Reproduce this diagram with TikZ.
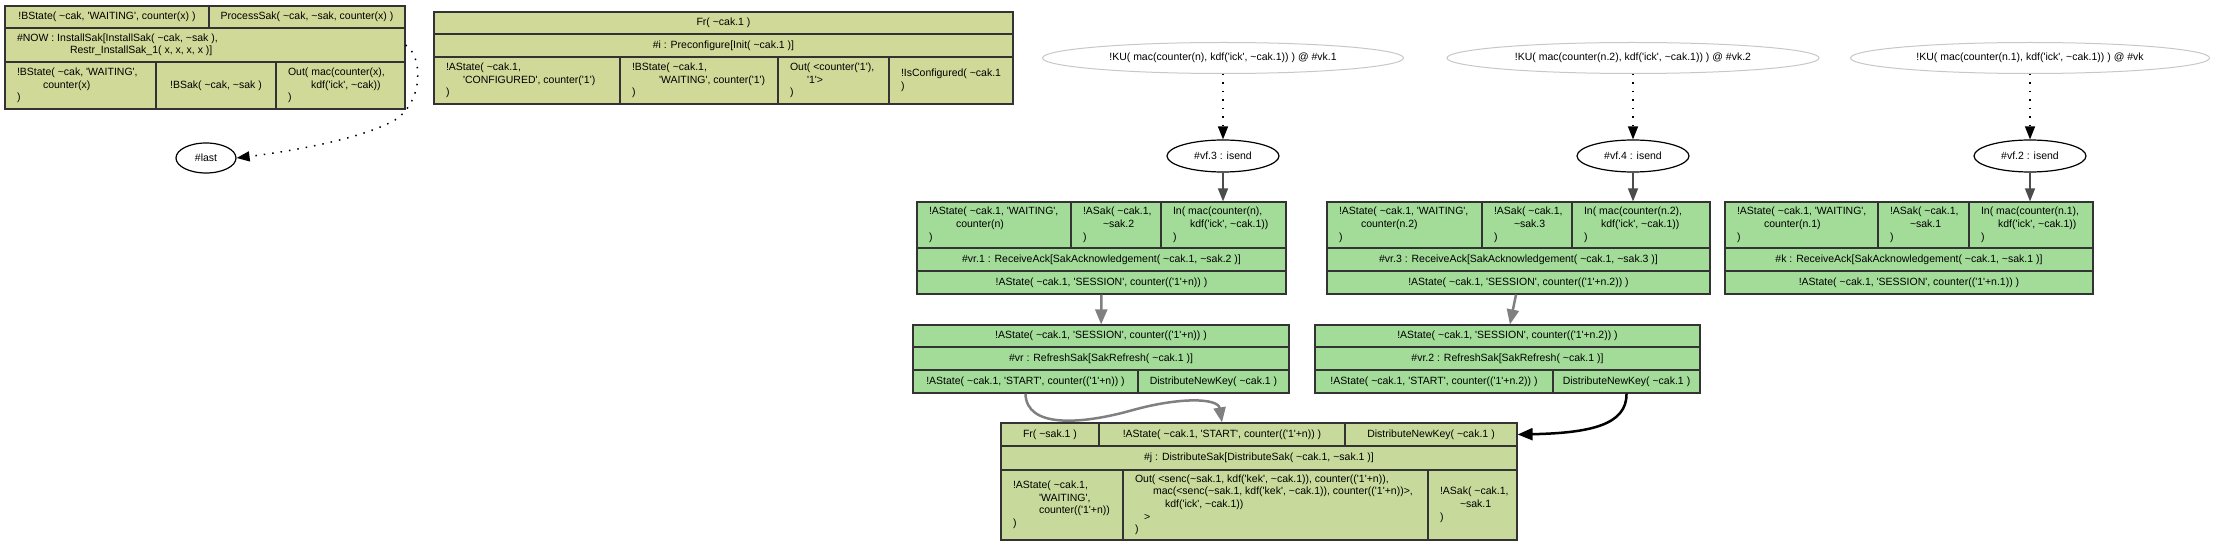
\documentclass[tikz,border=0pt]{standalone}
\usepackage{fontspec}
\newfontfamily\gvfont{Liberation Sans}
\usetikzlibrary{shapes.geometric,arrows.meta}
\definecolor{rulekhaki}{HTML}{D1D998}
\definecolor{rulegreen}{HTML}{A3DC99}
\definecolor{ruleolive}{HTML}{C8DA9B}
\newcommand{\tld}{\textasciitilde}
\newcommand{\cell}[7][]{%
  \node[cellbox,#1,minimum width={#5-#3},minimum height={#6-#4}] (#2) at ({(#3+#5)/2},{(#4+#6)/2}) {#7};}
\newcommand{\lcell}[7][]{%
  \node[cellbox,#1,minimum width={#5-#3},minimum height={#6-#4}] (#2) at ({(#3+#5)/2},{(#4+#6)/2})
  {\makebox[\dimexpr#5pt-#3pt-24pt\relax][l]{\begin{tabular}{@{}l@{}}#7\end{tabular}}};}

\begin{document}
\begin{tikzpicture}[x=1pt, y=-1pt,
  every node/.style={font=\gvfont\fontsize{10.5}{12.6}\selectfont},
  cellbox/.style={draw=black!80, line width=1.2pt, inner sep=0pt},
  kfill/.style={fill=rulekhaki}, gfill/.style={fill=rulegreen}, ofill/.style={fill=ruleolive},
  kunode/.style={ellipse, draw=black!22, line width=1pt, inner sep=0pt, minimum height=31},
  vfnode/.style={ellipse, draw=black, line width=1.2pt, inner sep=0pt, minimum height=32},
  dotedge/.style={line width=1.5pt, dash pattern=on 1.5pt off 7pt, -{Triangle[length=13pt,width=10pt]}},
  vfedge/.style={draw=black!70, line width=1.5pt, -{Triangle[length=13pt,width=10pt]}},
  grayedge/.style={draw=black!50, line width=2.5pt, -{Triangle[length=15pt,width=12pt]}},
  blackedge/.style={draw=black, line width=2.5pt, -{Triangle[length=15pt,width=12pt]}}]
\useasboundingbox (0,0) rectangle (2216,545);
%install box
\cell[kfill]{in1a}{5}{6}{209}{28}{!BState( \tld cak, 'WAITING', counter(x) )}
\cell[kfill]{in1b}{209}{6}{405}{28}{ProcessSak( \tld cak, \tld sak, counter(x) )}
\lcell[kfill]{in2}{5}{28}{405}{62}{\#NOW : InstallSak[InstallSak( \tld cak, \tld sak ),\\ \hspace*{53pt}Restr\_InstallSak\_1( x, x, x, x )]}
\lcell[kfill]{in3a}{5}{62}{156}{109}{!BState( \tld cak, 'WAITING',\\ \hspace*{26pt}counter(x)\\ )}
\cell[kfill]{in3b}{156}{62}{276}{109}{!BSak( \tld cak, \tld sak )}
\lcell[kfill]{in3c}{276}{62}{405}{109}{Out( mac(counter(x),\\ \hspace*{23pt}kdf('ick', \tld cak))\\ )}
\node[vfnode, minimum width=60, minimum height=30] (last) at (206,158) {\#last};
%preconfigure box
\cell[kfill]{pre1}{434}{12}{1013}{34}{Fr( \tld cak.1 )}
\cell[kfill]{pre2}{434}{34}{1013}{57}{\#i : Preconfigure[Init( \tld cak.1 )]}
\lcell[kfill]{pre3a}{434}{57}{620}{104}{!AState( \tld cak.1,\\ \hspace*{17pt}'CONFIGURED', counter('1')\\ )}
\lcell[kfill]{pre3b}{620}{57}{778}{104}{!BState( \tld cak.1,\\ \hspace*{27pt}'WAITING', counter('1')\\ )}
\lcell[kfill]{pre3c}{778}{57}{889}{104}{Out( <counter('1'),\\ \hspace*{17pt}'1'>\\ )}
\lcell[kfill]{pre3d}{889}{57}{1013}{104}{!IsConfigured( \tld cak.1\\ )}
%knowledge and isend
\node[kunode, minimum width=361] (ku1) at (1223,58) {!KU( mac(counter(n), kdf('ick', \tld cak.1)) ) @ \#vk.1};
\node[kunode, minimum width=372] (ku2) at (1633,58) {!KU( mac(counter(n.2), kdf('ick', \tld cak.1)) ) @ \#vk.2};
\node[kunode, minimum width=359] (ku3) at (2030,58) {!KU( mac(counter(n.1), kdf('ick', \tld cak.1)) ) @ \#vk};
\node[vfnode, minimum width=112] (vf3) at (1223,156) {\#vf.3 : isend};
\node[vfnode, minimum width=112] (vf4) at (1633,156) {\#vf.4 : isend};
\node[vfnode, minimum width=112] (vf2) at (2030,156) {\#vf.2 : isend};
%receive ack boxes
\lcell[gfill]{ack1a}{917}{202}{1071}{248}{!AState( \tld cak.1, 'WAITING',\\ \hspace*{27pt}counter(n)\\ )}
\lcell[gfill]{ack1b}{1071}{202}{1161}{248}{!ASak( \tld cak.1,\\ \hspace*{20pt}\tld sak.2\\ )}
\lcell[gfill]{ack1c}{1161}{202}{1286}{248}{In( mac(counter(n),\\ \hspace*{17pt}kdf('ick', \tld cak.1))\\ )}
\cell[gfill]{ack1r}{917}{248}{1286}{271}{\#vr.1 : ReceiveAck[SakAcknowledgement( \tld cak.1, \tld sak.2 )]}
\cell[gfill]{ack1o}{917}{271}{1286}{294}{!AState( \tld cak.1, 'SESSION', counter(('1'+n)) )}
\lcell[gfill]{ack3a}{1327}{202}{1482}{248}{!AState( \tld cak.1, 'WAITING',\\ \hspace*{22pt}counter(n.2)\\ )}
\lcell[gfill]{ack3b}{1482}{202}{1572}{248}{!ASak( \tld cak.1,\\ \hspace*{20pt}\tld sak.3\\ )}
\lcell[gfill]{ack3c}{1572}{202}{1710}{248}{In( mac(counter(n.2),\\ \hspace*{17pt}kdf('ick', \tld cak.1))\\ )}
\cell[gfill]{ack3r}{1327}{248}{1710}{271}{\#vr.3 : ReceiveAck[SakAcknowledgement( \tld cak.1, \tld sak.3 )]}
\cell[gfill]{ack3o}{1327}{271}{1710}{294}{!AState( \tld cak.1, 'SESSION', counter(('1'+n.2)) )}
\lcell[gfill]{ackka}{1725}{202}{1878}{248}{!AState( \tld cak.1, 'WAITING',\\ \hspace*{27pt}counter(n.1)\\ )}
\lcell[gfill]{ackkb}{1878}{202}{1969}{248}{!ASak( \tld cak.1,\\ \hspace*{20pt}\tld sak.1\\ )}
\lcell[gfill]{ackkc}{1969}{202}{2093}{248}{In( mac(counter(n.1),\\ \hspace*{17pt}kdf('ick', \tld cak.1))\\ )}
\cell[gfill]{ackkr}{1725}{248}{2093}{271}{\#k : ReceiveAck[SakAcknowledgement( \tld cak.1, \tld sak.1 )]}
\cell[gfill]{ackko}{1725}{271}{2093}{294}{!AState( \tld cak.1, 'SESSION', counter(('1'+n.1)) )}
%refresh boxes
\cell[gfill]{ref1s}{913}{325}{1289}{347}{!AState( \tld cak.1, 'SESSION', counter(('1'+n)) )}
\cell[gfill]{ref1r}{913}{347}{1289}{370}{\#vr : RefreshSak[SakRefresh( \tld cak.1 )]}
\cell[gfill]{ref1a}{913}{370}{1138}{393}{!AState( \tld cak.1, 'START', counter(('1'+n)) )}
\cell[gfill]{ref1b}{1138}{370}{1289}{393}{DistributeNewKey( \tld cak.1 )}
\cell[gfill]{ref2s}{1315}{325}{1700}{347}{!AState( \tld cak.1, 'SESSION', counter(('1'+n.2)) )}
\cell[gfill]{ref2r}{1315}{347}{1700}{370}{\#vr.2 : RefreshSak[SakRefresh( \tld cak.1 )]}
\cell[gfill]{ref2a}{1315}{370}{1553}{393}{!AState( \tld cak.1, 'START', counter(('1'+n.2)) )}
\cell[gfill]{ref2b}{1553}{370}{1700}{393}{DistributeNewKey( \tld cak.1 )}
%distribute box
\cell[ofill]{dist1a}{1001}{423}{1099}{446}{Fr( \tld sak.1 )}
\cell[ofill]{dist1b}{1099}{423}{1345}{446}{!AState( \tld cak.1, 'START', counter(('1'+n)) )}
\cell[ofill]{dist1c}{1345}{423}{1517}{446}{DistributeNewKey( \tld cak.1 )}
\cell[ofill]{dist2}{1001}{446}{1517}{470}{\#j : DistributeSak[DistributeSak( \tld cak.1, \tld sak.1 )]}
\lcell[ofill]{dist3a}{1001}{470}{1123}{540}{!AState( \tld cak.1,\\ \hspace*{26pt}'WAITING',\\ \hspace*{26pt}counter(('1'+n))\\ )}
\lcell[ofill]{dist3b}{1123}{470}{1428}{540}{Out( <senc(\tld sak.1, kdf('kek', \tld cak.1)), counter(('1'+n)),\\ \hspace*{18pt}mac(<senc(\tld sak.1, kdf('kek', \tld cak.1)), counter(('1'+n))>,\\ \hspace*{30pt}kdf('ick', \tld cak.1))\\ \hspace*{9pt}>\\ )}
\lcell[ofill]{dist3c}{1428}{470}{1517}{540}{!ASak( \tld cak.1,\\ \hspace*{20pt}\tld sak.1\\ )}
%edges
\draw[dotedge] (in2.east) .. controls (422,55) and (425,100) .. (395,120) .. controls (360,140) and (285,152) .. (last.east);
\foreach \k/\v in {ku1/vf3, ku2/vf4, ku3/vf2}
  \draw[dotedge] (\k) -- (\v);
\draw[vfedge] (vf3) -- (vf3 |- ack1c.north);
\draw[vfedge] (vf4) -- (vf4 |- ack3c.north);
\draw[vfedge] (vf2) -- (vf2 |- ackkc.north);
\draw[grayedge] (ack1o) -- (ref1s);
\draw[grayedge] (ack3o) -- (ref2s);
\draw[grayedge] (ref1a.south) .. controls (1026,428) and (1080,425) .. (1133,410) .. controls (1180,397) and (1218,398) .. (dist1b.north);
\draw[blackedge] (ref2b.south) .. controls (1627,425) and (1590,433) .. (dist1c.east);
\end{tikzpicture}
\end{document}
